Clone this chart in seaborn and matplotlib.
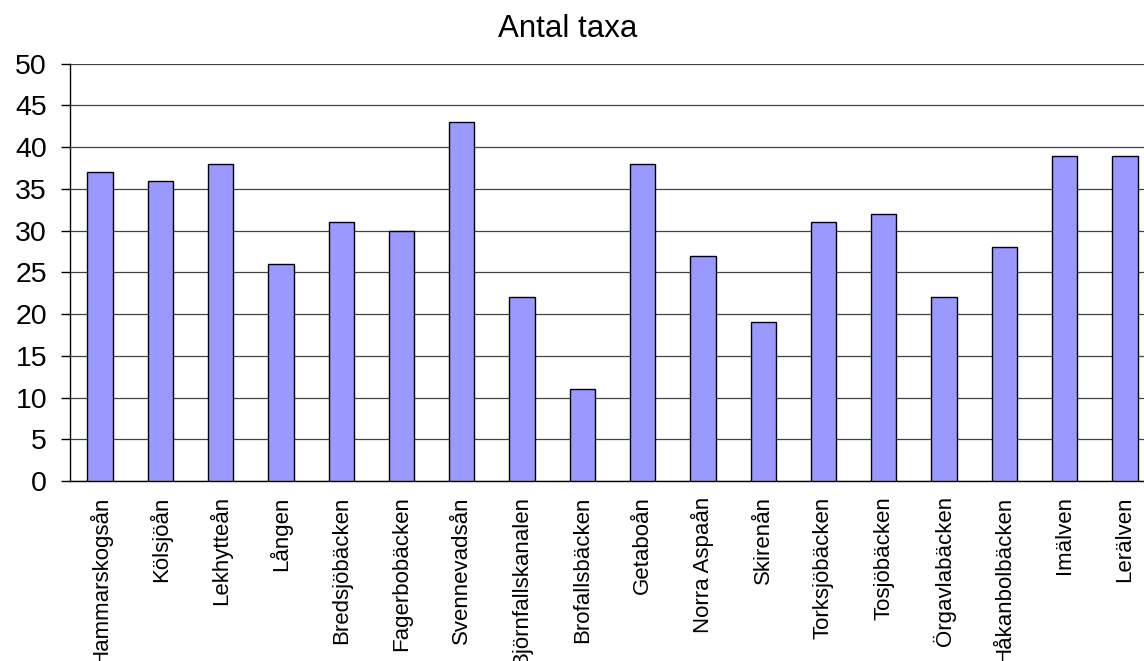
import matplotlib
matplotlib.use("Agg")
import matplotlib.pyplot as plt
import seaborn as sns
import pandas as pd
import numpy as np

categories = ["Hammarskogsån", "Kölsjöån", "Lekhytteån", "Lången", "Bredsjöbäcken",
              "Fagerbobäcken", "Svennevadsån", "Björnfallskanalen", "Brofallsbäcken",
              "Getaboån", "Norra Aspaån", "Skirenån", "Torksjöbäcken", "Tosjöbäcken",
              "Örgavlabäcken", "Håkanbolbäcken", "Imälven", "Lerälven"]
values = [37, 36, 38, 26, 31, 30, 43, 22, 11, 38, 27, 19, 31, 32, 22, 28, 39, 39]
yticks = [0, 5, 10, 15, 20, 25, 30, 35, 40, 45, 50]
title = "Antal taxa"

sns.set_theme(style="white")
plt.rcParams['font.family'] = ['Liberation Sans', 'DejaVu Sans']
plt.rcParams['text.color'] = 'black'
plt.rcParams['xtick.color'] = 'black'
plt.rcParams['ytick.color'] = 'black'
plt.rcParams['xtick.labelcolor'] = 'black'
plt.rcParams['ytick.labelcolor'] = 'black'

W, H = 1144, 661
fig = plt.figure(figsize=(W / 100, H / 100), dpi=100)
ax = fig.add_axes([70 / W, 1 - 481 / H, (1155 - 70) / W, (481 - 63.7) / H])

df = pd.DataFrame({"cat": categories, "val": values})
sns.barplot(data=df, x="cat", y="val", ax=ax, color="#9999FF", saturation=1,
            width=0.42, edgecolor="black", linewidth=1.0, zorder=3)

ax.set_xlim(-0.5, len(categories) - 0.5)
ax.set_ylim(0, 50)
ax.set_yticks(yticks)
ax.set_yticklabels([str(t) for t in yticks], fontsize=20.5, color="black")
ax.yaxis.grid(True, color="#444444", linewidth=0.9, zorder=0)
ax.set_axisbelow(True)
ax.set_xlabel("")
ax.set_ylabel("")

ax.set_xticks(np.arange(len(categories)))
ax.set_xticklabels(categories, rotation=90, fontsize=16, va="top", ha="center", color="black")
ax.set_xticks(np.arange(-0.5, len(categories) + 0.5, 1), minor=True)
ax.tick_params(axis="x", which="major", length=0, pad=11)
ax.tick_params(axis="x", which="minor", length=6, width=1, color="black", direction="out")
ax.tick_params(axis="y", which="major", length=6.5, width=1, color="black",
               direction="out", pad=10, left=True)

for s in ["top", "right"]:
    ax.spines[s].set_visible(False)
for s in ["left", "bottom"]:
    ax.spines[s].set_visible(True)
    ax.spines[s].set_color("black")
    ax.spines[s].set_linewidth(1.0)

fig.text(568 / W, 1 - 29 / H, title, fontsize=22.5, ha="center", va="center", color="black")

fig.savefig("out.png", dpi=100, facecolor="white")
